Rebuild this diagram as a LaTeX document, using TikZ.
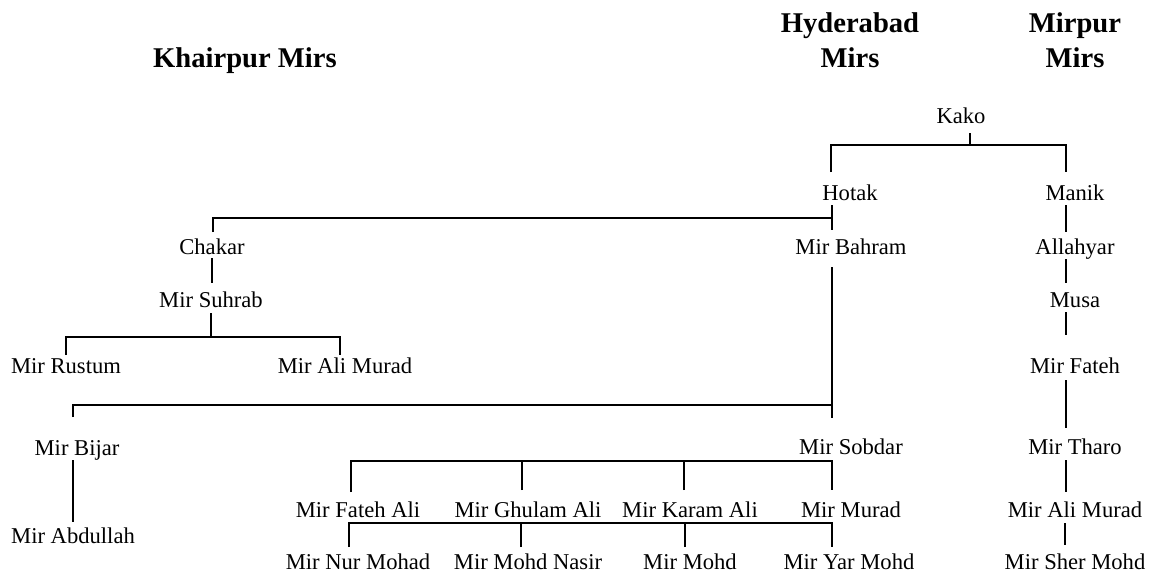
\documentclass[tikz,border=0pt]{standalone}
\usepackage{fontspec}
\setmainfont{Liberation Serif}
\usetikzlibrary{calc}
\tikzset{
  person/.style={anchor=base, inner sep=0pt, font=\fontsize{22.6}{26}\selectfont},
  header/.style={anchor=base, inner sep=0pt, align=center, font=\fontsize{28.6}{35}\selectfont\bfseries},
  link/.style={line width=1.7pt, line cap=butt}
}
\begin{document}
\begin{tikzpicture}[x=1pt,y=-1pt]
\useasboundingbox[fill=white] (0,0) rectangle (1153,579);
% headers
\node[header] (khairpur) at (245,67) {Khairpur Mirs};
\node[header] (hyd1) at (850,32) {Hyderabad};
\node[header] (hyd2) at (850,67) {Mirs};
\node[header] (mir1) at (1075,32) {Mirpur};
\node[header] (mir2) at (1075,67) {Mirs};
% people
\node[person] (kako) at (961,123) {Kako};
\node[person] (hotak) at (850,200) {Hotak};
\node[person] (manik) at (1075,200) {Manik};
\node[person] (chakar) at (212,254) {Chakar};
\node[person] (bahram) at (851,254) {Mir Bahram};
\node[person] (allahyar) at (1075,254) {Allahyar};
\node[person] (suhrab) at (211,307) {Mir Suhrab};
\node[person] (musa) at (1075,307) {Musa};
\node[person] (rustum) at (66,373) {Mir Rustum};
\node[person] (alimurad) at (345,373) {Mir Ali Murad};
\node[person] (fateh) at (1075,373) {Mir Fateh};
\node[person] (bijar) at (77,455) {Mir Bijar};
\node[person] (sobdar) at (851,454) {Mir Sobdar};
\node[person] (tharo) at (1075,454) {Mir Tharo};
\node[person] (fatehali) at (358,517) {Mir Fateh Ali};
\node[person] (ghulam) at (528,517) {Mir Ghulam Ali};
\node[person] (karam) at (690,517) {Mir Karam Ali};
\node[person] (murad) at (851,517) {Mir Murad};
\node[person] (alimuradb) at (1075,517) {Mir Ali Murad};
\node[person] (abdullah) at (73,543) {Mir Abdullah};
\node[person] (nur) at (358,569) {Mir Nur Mohad};
\node[person] (nasir) at (528,569) {Mir Mohd Nasir};
\node[person] (mohd) at (690,569) {Mir Mohd};
\node[person] (yar) at (849,569) {Mir Yar Mohd};
\node[person] (sher) at (1075,569) {Mir Sher Mohd};
% connectors
\draw[link] ($(kako.base)+(9,10)$) -- ($(kako.base)+(9,22)$);
\draw[link] ($(hotak.base)+(-19,-28)$) |- ($(kako.base)+(9,22)$) -| ($(manik.base)+(-9,-28)$);
\draw[link] ($(hotak.base)+(-18,5)$) -- ($(bahram.base)+(-19,-24)$);
\draw[link] ($(chakar.base)+(1,-22)$) |- ($(hotak.base)+(-18,18)$);
\draw[link] ($(manik.base)+(-9,5)$) -- ($(allahyar.base)+(-9,-22)$);
\draw[link] ($(allahyar.base)+(-9,5)$) -- ($(musa.base)+(-9,-24)$);
\draw[link] ($(chakar.base)+(0,4)$) -- ($(suhrab.base)+(1,-24)$);
\draw[link] ($(musa.base)+(-9,5)$) -- ($(fateh.base)+(-9,-38)$);
\draw[link] ($(suhrab.base)+(0,6)$) -- ($(suhrab.base)+(0,30)$);
\draw[link] ($(rustum.base)+(0,-18)$) |- ($(suhrab.base)+(0,30)$) -| ($(alimurad.base)+(-5,-18)$);
\draw[link] ($(bahram.base)+(-19,13)$) -- ($(sobdar.base)+(-19,-36)$);
\draw[link] ($(bijar.base)+(-4,-38)$) |- ($(bahram.base)+(-19,151)$);
\draw[link] ($(fateh.base)+(-9,7)$) -- ($(tharo.base)+(-9,-26)$);
\draw[link] ($(bijar.base)+(-4,5)$) -- ($(abdullah.base)+(0,-21)$);
\draw[link] ($(fatehali.base)+(-7,-25)$) |- ($(sobdar.base)+(-19,7)$) -- ($(murad.base)+(-19,-27)$);
\draw[link] ($(ghulam.base)+(-6,-27)$) -- ($(ghulam.base)+(-6,-56)$);
\draw[link] ($(karam.base)+(-6,-27)$) -- ($(karam.base)+(-6,-56)$);
\draw[link] ($(tharo.base)+(-9,6)$) -- ($(alimuradb.base)+(-9,-25)$);
\draw[link] ($(nur.base)+(-9,-22)$) |- ($(murad.base)+(-19,6)$) -- ($(yar.base)+(-17,-22)$);
\draw[link] ($(nasir.base)+(-7,-22)$) -- ($(nasir.base)+(-7,-46)$);
\draw[link] ($(mohd.base)+(-5,-22)$) -- ($(mohd.base)+(-5,-46)$);
\draw[link] ($(alimuradb.base)+(-10,6)$) -- ($(sher.base)+(-10,-24)$);
\end{tikzpicture}
\end{document}
